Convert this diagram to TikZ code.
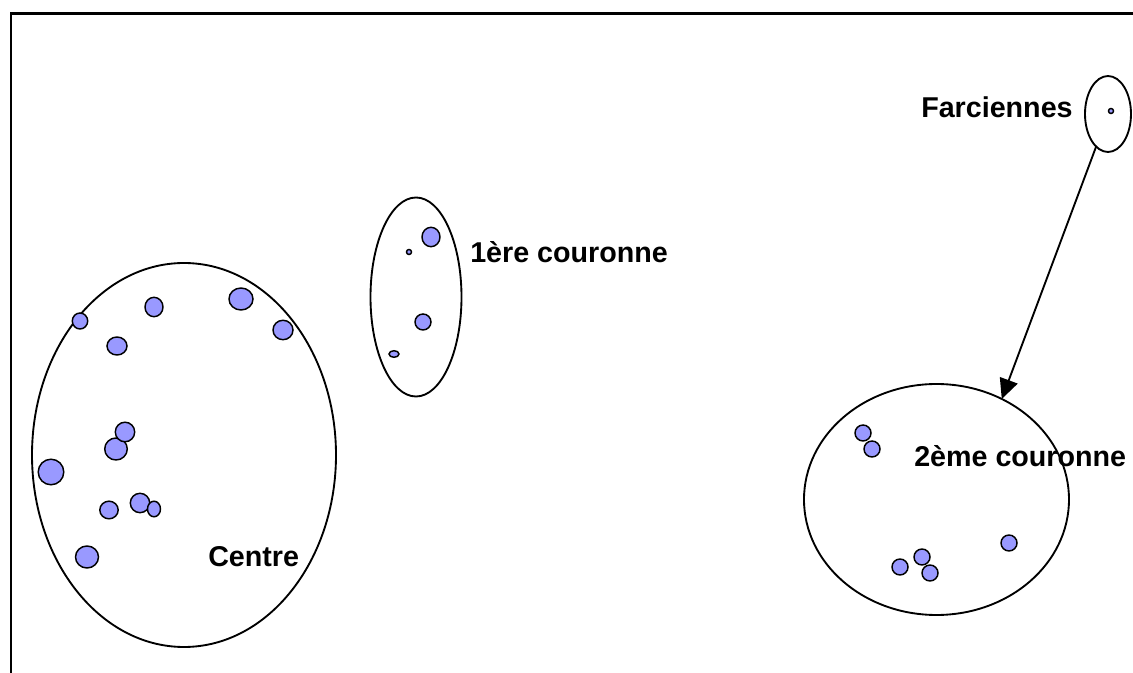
\documentclass[tikz,border=0pt]{standalone}
\usepackage{fontspec}
\setmainfont{Liberation Sans}
\usetikzlibrary{arrows.meta,shapes.geometric}
\definecolor{dotblue}{HTML}{9999FF}

\begin{document}
\begin{tikzpicture}[x=0.75pt,y=-0.75pt,
        zone/.style={ellipse,draw,line width=1.4pt,inner sep=0pt,outer sep=0pt},
        dot/.style={draw,fill=dotblue,line width=1.1pt},
        label/.style={anchor=base west,inner sep=0pt,font=\bfseries\fontsize{21.5pt}{26pt}\selectfont}]
    \useasboundingbox (0,0) rectangle (1133,673);
    \draw[line width=2.2pt] (11,673) -- (11,13.5) -- (1133,13.5);

    % zones
    \node[zone,minimum width=228pt,minimum height=288pt] (centre) at (184,455) {};
    \node[zone,minimum width=68.25pt,minimum height=149.25pt] (premiere) at (416,297) {};
    \node[zone,minimum width=198.75pt,minimum height=173.25pt] (deuxieme) at (936.5,499.5) {};
    \node[zone,minimum width=34.5pt,minimum height=57pt] (farc) at (1108,114) {};

    % communes
    \foreach \x/\y/\rx/\ry in {80/321/7.7/8, 154/307/9/9.7, 241/299/12/11, 283/330/10/9.7,
            117/346/10/9, 116/449/11.3/11, 125/432/9.7/9.8, 51/472/12.8/12.8,
            109/510/9.2/8.8, 140/503/9.7/9.7, 154/509/6.5/7.8, 87/557/11.5/11,
            431/237/9/9.7, 409/252/2.5/2.5, 423/322/8/8, 394/354/5/3.3,
            863/433/8/8, 872/449/8/8, 1009/543/8/8, 922/557/8/8, 900/567/8/8, 930/573/8/8,
            1111/111/2.5/2.5}
        \draw[dot] (\x,\y) ellipse [x radius=\rx, y radius=\ry];

    \node[label] (lcentre) at (208,567) {Centre};
    \node[label] (lpremiere) at (470,263) {1ère couronne};
    \node[label] (ldeuxieme) at (914,467) {2ème couronne};
    \node[label] (lfarc) at (921,118) {Farciennes};

    \draw[line width=1.4pt,-{Triangle[length=15pt,width=14pt]}] (farc.250) -- (deuxieme.57);
\end{tikzpicture}
\end{document}
